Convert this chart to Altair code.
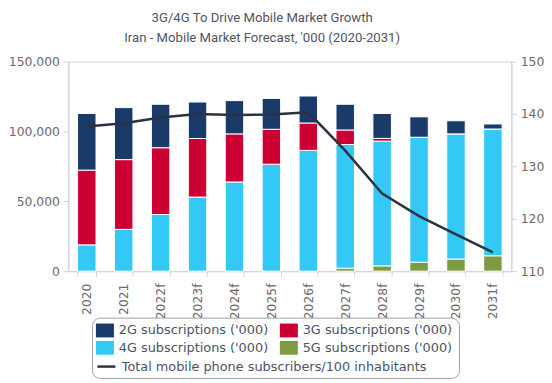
import altair as alt
import pandas as pd

years = ["2020", "2021", "2022f", "2023f", "2024f", "2025f", "2026f",
         "2027f", "2028f", "2029f", "2030f", "2031f"]
subs_2g = [40500, 37200, 31100, 26100, 23800, 22100, 19300, 18400, 17800, 14600, 9400, 3600]
subs_3g = [53500, 49900, 47800, 41900, 34400, 25000, 19600, 10400, 2000, 0, 0, 0]
subs_4g = [18800, 29900, 40500, 53000, 63800, 76500, 86400, 88500, 89200, 89400, 89500, 90700]
subs_5g = [0, 0, 0, 0, 0, 0, 0, 2100, 3800, 6400, 8700, 11000]
per100 = [137.6, 138.2, 139.3, 140.0, 139.8, 139.9, 140.3, 133.0, 124.8, 120.5, 117.0, 113.6]

S2 = "2G subscriptions ('000)"
S3 = "3G subscriptions ('000)"
S4 = "4G subscriptions ('000)"
S5 = "5G subscriptions ('000)"
TOTAL = "Total mobile phone subscribers/100 inhabitants"

series_names = [S2, S3, S4, S5, TOTAL]
series_colors = ["#1a3a6a", "#cc0033", "#33c8f5", "#7d9c42", "#2b3340"]
LINE_COLOR = "#2b3340"

rows = []
for name, vals, order in [(S5, subs_5g, 0), (S4, subs_4g, 1), (S3, subs_3g, 2), (S2, subs_2g, 3)]:
    for y, v in zip(years, vals):
        rows.append({"year": y, "series": name, "value": v, "order": order})
bar_df = pd.DataFrame(rows)
line_df = pd.DataFrame({"year": years, "per100": per100, "line_series": TOTAL, "series": TOTAL})

AX_FONT = "DejaVu Sans"
LABEL_COLOR = "#6b6b6b"
GRID = "#cfd3d8"
FS = 12.5
LFS = 13
LEG_COLOR = "#4a5466"

rect_path = "M-1.3,-1L1.3,-1L1.3,1L-1.3,1Z"
empty_path = "M0,0"
line_path = "M-1.3,0L1.3,0"
shape_range = [rect_path, rect_path, rect_path, rect_path, empty_path]

LEG_X = 24
LEG_Y = 259
LEG_PAD = 6
ROW_PAD = 3.5
SYM = 196  # 14 px tall symbols


def make_legend():
    return alt.Legend(
        title=None,
        orient="none",
        legendX=LEG_X,
        legendY=LEG_Y,
        direction="horizontal",
        columns=2,
        columnPadding=10,
        rowPadding=ROW_PAD,
        labelLimit=400,
        labelFont=AX_FONT,
        labelFontSize=LFS,
        labelColor=LEG_COLOR,
        labelOffset=7,
        labelExpr=f"datum.label === '{TOTAL}' ? '' : datum.label",
        symbolSize=SYM,
        symbolStrokeWidth=0,
        symbolOpacity=1,
        strokeColor="#9aa0a8",
        cornerRadius=8,
        fillColor="white",
        padding=LEG_PAD,
        zindex=0,
    )


color = alt.Color("series:N",
                  scale=alt.Scale(domain=series_names, range=series_colors),
                  legend=make_legend())
shape = alt.Shape("series:N",
                  scale=alt.Scale(domain=series_names, range=shape_range),
                  legend=make_legend())

line_legend = alt.Legend(
    title=None,
    orient="none",
    legendX=LEG_X,
    legendY=LEG_Y + 2 * (14 + ROW_PAD),
    labelLimit=400,
    labelFont=AX_FONT,
    labelFontSize=LFS,
    labelColor=LEG_COLOR,
    labelOffset=7,
    symbolType=line_path,
    symbolSize=SYM,
    symbolStrokeWidth=2.5,
    symbolStrokeColor=LINE_COLOR,
    padding=LEG_PAD,
    zindex=1,
)

x_enc = alt.X("year:N", sort=years,
              scale=alt.Scale(paddingInner=0.5, paddingOuter=0.25),
              axis=alt.Axis(title=None, labelAngle=-90, tickBand="extent",
                            labelFont=AX_FONT, labelFontSize=FS, labelColor=LABEL_COLOR,
                            domainColor=GRID, tickColor=GRID, tickSize=5, labelPadding=7))

bars = alt.Chart(bar_df).mark_bar(stroke="white", strokeWidth=1).encode(
    x=x_enc,
    y=alt.Y("value:Q", stack="zero",
            scale=alt.Scale(domain=[0, 150000], nice=False),
            axis=alt.Axis(title=None, values=[0, 50000, 100000, 150000],
                          labelExpr="format(datum.value, ',')",
                          grid=False, labelFont=AX_FONT, labelFontSize=FS,
                          labelColor=LABEL_COLOR, domainColor=GRID, tickColor=GRID,
                          tickSize=5, labelPadding=4)),
    color=color,
    order=alt.Order("order:Q"),
)

y_right = alt.Y("per100:Q",
                scale=alt.Scale(domain=[110, 150], nice=False),
                axis=alt.Axis(title=None, orient="right", values=[110, 120, 130, 140, 150],
                              grid=False, labelFont=AX_FONT, labelFontSize=FS,
                              labelColor=LABEL_COLOR, domainColor=GRID, tickColor=GRID,
                              tickSize=5, labelPadding=4))

line = alt.Chart(line_df).mark_line(strokeWidth=2.5).encode(
    x=alt.X("year:N", sort=years),
    y=y_right,
    stroke=alt.Stroke("line_series:N",
                      scale=alt.Scale(domain=[TOTAL], range=[LINE_COLOR]),
                      legend=line_legend),
)

# legend carrier: invisible points sharing color + shape scales
keys = alt.Chart(line_df).mark_point(filled=True, size=0).encode(
    x=alt.X("year:N", sort=years),
    y=y_right,
    color=color,
    shape=shape,
)

chart = alt.layer(bars, alt.layer(line, keys)).resolve_scale(y="independent").properties(
    width=448,
    height=212,
    padding=0,
    title=alt.TitleParams(
        text=["3G/4G To Drive Mobile Market Growth",
              "Iran - Mobile Market Forecast, '000 (2020-2031)"],
        font="Roboto", fontSize=13.3, fontWeight="normal",
        color="#4f5563", lineHeight=21, anchor="middle", dx=-28, offset=11,
    ),
).configure_view(stroke=GRID)

chart.save("out.html", embed_options={"renderer": "svg", "actions": False})
